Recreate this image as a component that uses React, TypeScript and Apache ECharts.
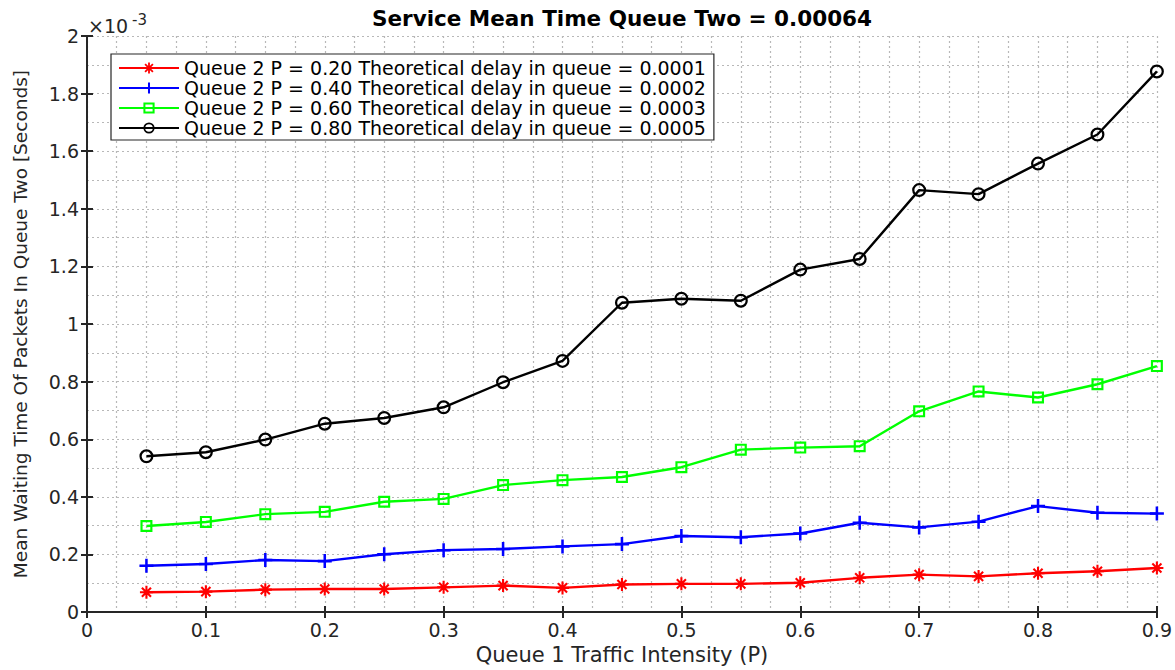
import React, { useEffect, useRef } from "react";
import * as echarts from "echarts";

// Queue 1 traffic intensity (x)
const trafficP = [0.05, 0.1, 0.15, 0.2, 0.25, 0.3, 0.35, 0.4, 0.45, 0.5, 0.55, 0.6, 0.65, 0.7, 0.75, 0.8, 0.85, 0.9];

// Mean waiting time in queue two, in units of 1e-3 seconds
const waitQ2P20 = [0.069, 0.071, 0.078, 0.080, 0.080, 0.086, 0.092, 0.084, 0.096, 0.098, 0.098, 0.102, 0.119, 0.130, 0.124, 0.135, 0.142, 0.153];
const waitQ2P40 = [0.161, 0.167, 0.181, 0.177, 0.201, 0.215, 0.219, 0.228, 0.236, 0.264, 0.260, 0.273, 0.310, 0.294, 0.314, 0.368, 0.345, 0.342];
const waitQ2P60 = [0.299, 0.313, 0.340, 0.348, 0.383, 0.393, 0.441, 0.458, 0.469, 0.503, 0.564, 0.571, 0.576, 0.697, 0.766, 0.745, 0.791, 0.854];
const waitQ2P80 = [0.541, 0.555, 0.599, 0.654, 0.674, 0.711, 0.798, 0.872, 1.074, 1.088, 1.081, 1.189, 1.226, 1.465, 1.451, 1.557, 1.658, 1.877];

const seriesNames = [
  "Queue 2 P = 0.20 Theoretical delay in queue = 0.0001",
  "Queue 2 P = 0.40 Theoretical delay in queue = 0.0002",
  "Queue 2 P = 0.60 Theoretical delay in queue = 0.0003",
  "Queue 2 P = 0.80 Theoretical delay in queue = 0.0005",
];
const seriesColors = ["#ff0000", "#0000ff", "#00ff00", "#000000"];

const titleText = "Service Mean Time Queue Two = 0.00064";
const xName = "Queue 1 Traffic Intensity (P)";
const yName = "Mean Waiting Time Of Packets In Queue Two [Seconds]";

const FONT = "DejaVu Sans";

const asteriskPath =
  "path://M4.2,0 L5.8,0 L5.8,10 L4.2,10 Z M0,4.2 L10,4.2 L10,5.8 L0,5.8 Z " +
  "M2.07,0.93 L9.07,7.93 L7.93,9.07 L0.93,2.07 Z M9.07,2.07 L2.07,9.07 L0.93,7.93 L7.93,0.93 Z";
const plusPath = "path://M4.1,0 L5.9,0 L5.9,4.1 L10,4.1 L10,5.9 L5.9,5.9 L5.9,10 L4.1,10 L4.1,5.9 L0,5.9 L0,4.1 L4.1,4.1 Z";
const squarePath = "path://M0,0 L10,0 L10,10 L0,10 Z M1.8,1.8 L1.8,8.2 L8.2,8.2 L8.2,1.8 Z";
const circlePath = "path://M5,0 A5,5 0 1,1 5,10 A5,5 0 1,1 5,0 Z M5,1.6 A3.4,3.4 0 1,0 5,8.4 A3.4,3.4 0 1,0 5,1.6 Z";

export default function App() {
  const ref = useRef<HTMLDivElement>(null);

  useEffect(() => {
    if (!ref.current) return;
    const chart = echarts.init(ref.current, null, { renderer: "svg" });

    const allValues = [waitQ2P20, waitQ2P40, waitQ2P60, waitQ2P80];
    const symbols = [asteriskPath, plusPath, squarePath, circlePath];
    const symbolSizes = [13, 14, 12, 14];

    const axisColor = "#262626";
    const gridColor = "#b8b8b8";

    const series = allValues.map((vals, i) => ({
      name: seriesNames[i],
      type: "line",
      data: vals.map((v, j) => [trafficP[j], v]),
      symbol: symbols[i],
      symbolSize: symbolSizes[i],
      symbolKeepAspect: true,
      showAllSymbol: true,
      lineStyle: { color: seriesColors[i], width: 2.4 },
      itemStyle: { color: seriesColors[i] },
      z: 3 + i,
    }));

    const commonX = {
      type: "value",
      min: 0,
      max: 0.9,
      interval: 0.1,
      axisLine: { show: true, lineStyle: { color: axisColor, width: 2 } },
      axisTick: { show: true, inside: true, length: 6, lineStyle: { color: axisColor, width: 2 } },
    };
    const commonY = {
      type: "value",
      min: 0,
      max: 2,
      interval: 0.2,
      axisLine: { show: true, lineStyle: { color: axisColor, width: 2 } },
      axisTick: { show: true, inside: true, length: 6, lineStyle: { color: axisColor, width: 2 } },
    };

    chart.setOption({
      animation: false,
      backgroundColor: "#ffffff",
      grid: { left: 87, right: 18, top: 36, bottom: 55 },
      xAxis: [
        {
          ...commonX,
          position: "bottom",
          name: xName,
          nameLocation: "middle",
          nameGap: 31,
          nameTextStyle: { fontFamily: FONT, fontSize: 21, color: axisColor },
          axisLabel: { fontFamily: FONT, fontSize: 19, color: axisColor, margin: 8 },
          splitLine: { show: true, lineStyle: { color: gridColor, type: [2, 3], width: 1.2 } },
          minorTick: { show: false, splitNumber: 4 },
          minorSplitLine: { show: true, lineStyle: { color: gridColor, type: [2, 3], width: 1.2 } },
        },
        {
          ...commonX,
          position: "top",
          axisLabel: { show: false },
          splitLine: { show: false },
        },
      ],
      yAxis: [
        {
          ...commonY,
          position: "left",
          name: yName,
          nameLocation: "middle",
          nameGap: 57,
          nameTextStyle: { fontFamily: FONT, fontSize: 18.5, color: axisColor },
          axisLabel: { fontFamily: FONT, fontSize: 19, color: axisColor, margin: 8 },
          splitLine: { show: true, lineStyle: { color: gridColor, type: [2, 3], width: 1.2 } },
          minorTick: { show: false, splitNumber: 2 },
          minorSplitLine: { show: true, lineStyle: { color: gridColor, type: [2, 3], width: 1.2 } },
        },
        {
          ...commonY,
          position: "right",
          axisLabel: { show: false },
          splitLine: { show: false },
        },
      ],
      legend: {
        data: seriesNames,
        orient: "vertical",
        left: 111,
        top: 54,
        backgroundColor: "#ffffff",
        borderColor: axisColor,
        borderWidth: 1.2,
        borderRadius: 0,
        padding: [4, 8, 2, 7],
        itemWidth: 60,
        itemHeight: 14,
        itemGap: 0,
        textStyle: { fontFamily: FONT, fontSize: 19, lineHeight: 20, color: "#000000" },
        z: 20,
      },
      graphic: [
        {
          type: "text",
          x: 622,
          y: 18,
          style: {
            text: titleText,
            textAlign: "center",
            textVerticalAlign: "middle",
            fontFamily: FONT,
            fontSize: 21.5,
            fontWeight: "bold",
            fill: "#000000",
          },
        },
        {
          type: "text",
          x: 88,
          y: 35,
          style: {
            text: "×10",
            textAlign: "left",
            textVerticalAlign: "bottom",
            fontFamily: FONT,
            fontSize: 19,
            fill: axisColor,
          },
        },
        {
          type: "text",
          x: 132,
          y: 27,
          style: {
            text: "-3",
            textAlign: "left",
            textVerticalAlign: "bottom",
            fontFamily: FONT,
            fontSize: 15,
            fill: axisColor,
          },
        },
      ],
      series,
    });

    return () => chart.dispose();
  }, []);

  return (
    <div
      ref={ref}
      style={{ position: "absolute", left: 0, top: 0, width: 1175, height: 670 }}
    />
  );
}
